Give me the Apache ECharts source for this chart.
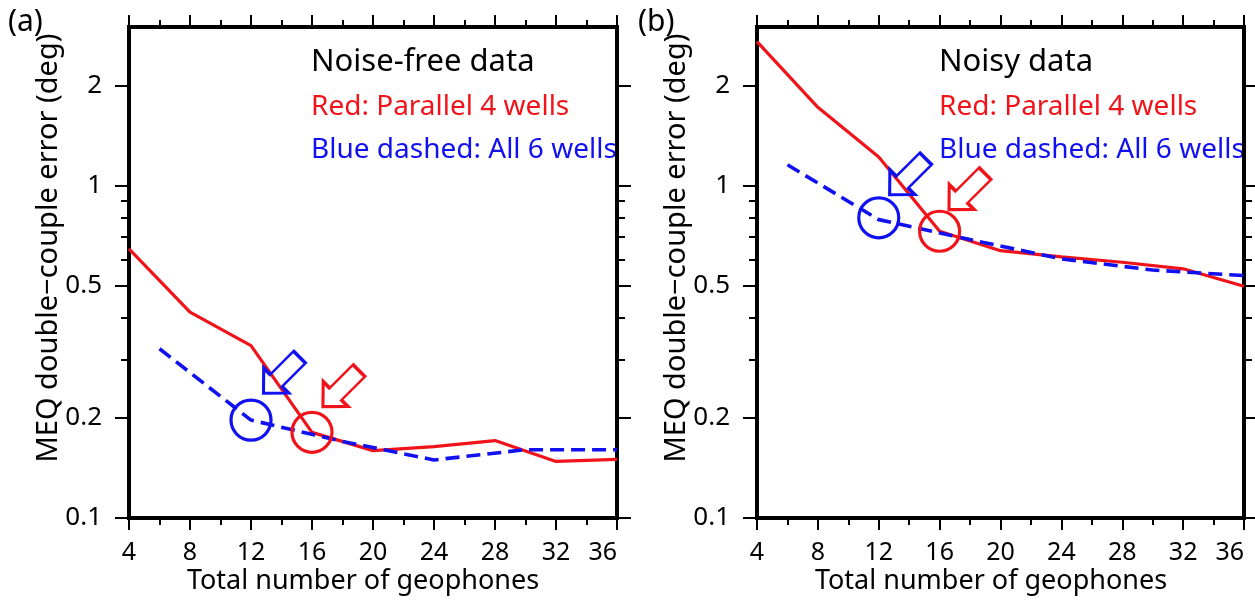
<!DOCTYPE html>
<html>
<head>
<meta charset="utf-8">
<script src="https://cdn.jsdelivr.net/npm/echarts@6/dist/echarts.min.js"></script>
<style>
  html, body { margin: 0; padding: 0; background: #fff; }
  #main { width: 1255px; height: 602px; }
</style>
</head>
<body>
<div id="main"></div>
<script>
// data
var xTicks = [4, 8, 12, 16, 20, 24, 28, 32, 36];
var yMajor = [0.1, 0.2, 0.5, 1, 2];
var yMinor = [0.3, 0.4, 0.6, 0.7, 0.8, 0.9];

var redX = [4, 8, 12, 16, 20, 24, 28, 32, 36];
var blueX = [6, 12, 18, 24, 30, 36];

var redFree = [0.645, 0.416, 0.330, 0.181, 0.1595, 0.164, 0.171, 0.148, 0.150];
var blueFree = [0.323, 0.197, 0.170, 0.1495, 0.1605, 0.1605];
var redNoisy = [2.71, 1.72, 1.22, 0.729, 0.637, 0.610, 0.588, 0.562, 0.498];
var blueNoisy = [1.155, 0.790, 0.688, 0.602, 0.557, 0.536];

// circles: [blue, red]
var circleFree = [[12, 0.197], [16, 0.181]];
var circleNoisy = [[12, 0.80], [16, 0.729]];
// arrows: [blue, red]
var arrowFree = [[14.0, 0.269], [17.9, 0.245]];
var arrowNoisy = [[13.9, 1.063], [17.8, 0.959]];

var panelTitles = ['Noise-free data', 'Noisy data'];
var legendRed = 'Red: Parallel 4 wells';
var legendBlue = 'Blue dashed: All 6 wells';
var yName = 'MEQ double\u2212couple error (deg)';
var xName = 'Total number of geophones';

var RED = '#f0141a';
var BLUE = '#1010f0';
var FONT = '"Noto Sans", sans-serif';
var ARROW = 'path://M0 50 L35 0 L35 26 L100 26 L100 74 L35 74 L35 100 Z';

function pairs(xs, ys) {
  return xs.map(function (x, i) { return [x, ys[i]]; });
}

var chart = echarts.init(document.getElementById('main'), null, { renderer: 'canvas' });

var grids = [
  { left: 129, top: 27, width: 488, height: 491, outerBoundsMode: 'none' },
  { left: 757, top: 27, width: 487, height: 491, outerBoundsMode: 'none' }
];

var xAxes = [], yAxes = [], series = [];
var axisLineStyle = { color: '#000', width: 4, cap: 'square' };
var tickLine = { color: '#000', width: 2 };

[0, 1].forEach(function (g) {
  ['bottom', 'top'].forEach(function (pos) {
    xAxes.push({
      gridIndex: g, type: 'value', position: pos,
      min: 4, max: 36, interval: 4,
      axisLine: { show: true, onZero: false, lineStyle: axisLineStyle },
      axisTick: { show: true, length: 12, lineStyle: tickLine },
      minorTick: { show: true, splitNumber: 2, length: 7, lineStyle: tickLine },
      axisLabel: {
        show: pos === 'bottom', margin: 22, color: '#000',
        fontSize: 25, fontFamily: FONT, alignMaxLabel: 'right'
      },
      splitLine: { show: false }, minorSplitLine: { show: false }
    });
  });
  ['left', 'right'].forEach(function (pos) {
    yAxes.push({
      gridIndex: g, type: 'log', logBase: 10, position: pos,
      min: 0.1, max: 3,
      axisLine: { show: true, onZero: false, lineStyle: axisLineStyle },
      axisTick: { show: true, length: 14, lineStyle: tickLine, customValues: yMajor },
      axisLabel: {
        show: pos === 'left', margin: 27, color: '#000',
        fontSize: 26, fontFamily: FONT, customValues: yMajor
      },
      splitLine: { show: false }
    });
    yAxes.push({
      gridIndex: g, type: 'log', logBase: 10, position: pos,
      min: 0.1, max: 3,
      axisLine: { show: false },
      axisTick: { show: true, length: 8, lineStyle: tickLine, customValues: yMinor },
      axisLabel: { show: false },
      splitLine: { show: false }
    });
  });
});

var panels = [
  { red: redFree, blue: blueFree, circles: circleFree, arrows: arrowFree },
  { red: redNoisy, blue: blueNoisy, circles: circleNoisy, arrows: arrowNoisy }
];

panels.forEach(function (p, g) {
  var xi = g * 2, yi = g * 4;
  series.push({
    type: 'line', xAxisIndex: xi, yAxisIndex: yi,
    data: pairs(redX, p.red), symbol: 'none',
    lineStyle: { color: RED, width: 3.2 }, z: 2
  });
  series.push({
    type: 'line', xAxisIndex: xi, yAxisIndex: yi,
    data: pairs(blueX, p.blue), symbol: 'none',
    lineStyle: { color: BLUE, width: 3.6, type: [14, 7] }, z: 3
  });
  series.push({
    type: 'scatter', xAxisIndex: xi, yAxisIndex: yi,
    symbol: 'circle', symbolSize: 40,
    data: p.circles.map(function (c, i) {
      return { value: c, itemStyle: { borderColor: i === 0 ? BLUE : RED } };
    }),
    itemStyle: { color: 'rgba(0,0,0,0)', borderWidth: 3.2, opacity: 1 }, z: 4
  });
  series.push({
    type: 'scatter', xAxisIndex: xi, yAxisIndex: yi,
    symbol: ARROW, symbolSize: [51, 35], symbolRotate: 45,
    data: p.arrows.map(function (c, i) {
      return { value: c, itemStyle: { borderColor: i === 0 ? BLUE : RED } };
    }),
    itemStyle: { color: 'rgba(0,0,0,0)', borderWidth: 3, opacity: 1 }, z: 4
  });
});

function txt(x, y, s, size, color, align, rot) {
  return {
    type: 'text', x: x, y: y, rotation: rot || 0,
    style: {
      text: s, fill: color, font: size + 'px ' + FONT,
      align: align, verticalAlign: 'middle'
    }
  };
}

var graphics = [
  txt(8, 22, '(a)', 30, '#000', 'left'),
  txt(638, 22, '(b)', 30, '#000', 'left'),
  txt(49, 248, yName, 29, '#000', 'center', Math.PI / 2),
  txt(677, 248, yName, 29, '#000', 'center', Math.PI / 2),
  txt(363, 581, xName, 27, '#000', 'center'),
  txt(991, 581, xName, 27, '#000', 'center'),
  txt(311, 62, panelTitles[0], 31, '#000', 'left'),
  txt(311, 107, legendRed, 28, RED, 'left'),
  txt(311, 150, legendBlue, 28, BLUE, 'left'),
  txt(939, 62, panelTitles[1], 31, '#000', 'left'),
  txt(939, 107, legendRed, 28, RED, 'left'),
  txt(939, 150, legendBlue, 28, BLUE, 'left')
];

chart.setOption({
  backgroundColor: '#fff',
  animation: false,
  grid: grids,
  xAxis: xAxes,
  yAxis: yAxes,
  series: series,
  graphic: graphics
});
</script>
</body>
</html>
